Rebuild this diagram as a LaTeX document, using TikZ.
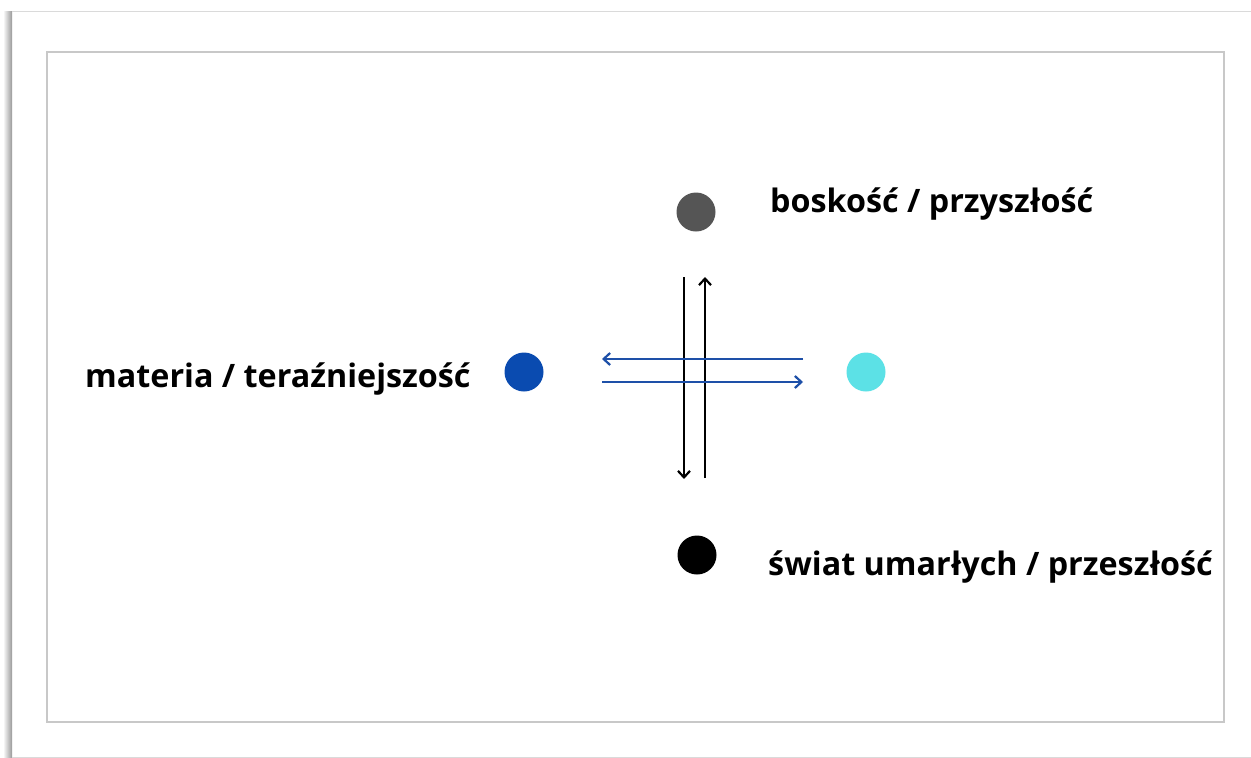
\documentclass[tikz,border=0pt]{standalone}
\usepackage{fontspec}
\setmainfont{Open Sans}
\usetikzlibrary{arrows.meta}
\definecolor{frameline}{HTML}{C8C8C8}
\definecolor{outerline}{HTML}{DADADA}
\definecolor{dotblue}{HTML}{0A4BB0}
\definecolor{dotgray}{HTML}{555555}
\definecolor{dotcyan}{HTML}{5CE1E6}
\definecolor{arrowblue}{HTML}{1E50A8}
\tikzset{
  dot/.style={circle, inner sep=0pt, minimum size=39pt},
  label/.style={anchor=base west, inner sep=0pt, font=\fontsize{32.3}{38}\selectfont\bfseries, text=black},
  flow/.style={line width=2.6pt, -{Straight Barb[length=6.5pt,width=12pt,line width=2.2pt]}},
}
\begin{document}
\begin{tikzpicture}[x=1pt,y=-1pt]
  \useasboundingbox (0,0) rectangle (1251,758);
  \fill[white] (0,0) rectangle (1251,758);
  % outer sheet with a soft shadow on its left edge
  \shade[left color=white, right color=black!40] (3,11) rectangle (12,758);
  \draw[outerline, line width=1pt] (12,11) -- (1251,11);
  \draw[outerline, line width=1pt] (12,757) -- (1251,757);
  % inner frame
  \draw[frameline, line width=1.5pt] (47,52) rectangle (1224,722);

  % dots
  \node[dot, fill=dotgray] (up) at (696,212) {};
  \node[dot, fill=black] (down) at (697,555) {};
  \node[dot, fill=dotblue] (left) at (524,372) {};
  \node[dot, fill=dotcyan] (right) at (866,372) {};

  % labels
  \node[label] (lup) at (770,212) {boskość / przyszłość};
  \node[label] (lleft) at (85,387) {materia / teraźniejszość};
  \node[label] (ldown) at (768,575) {świat umarłych / przeszłość};

  % arrow end points between the dots
  \coordinate (v1t) at (684,277);
  \coordinate (v1b) at (684,479);
  \coordinate (v2t) at (705,277);
  \coordinate (v2b) at (705,478);
  \coordinate (h1l) at (602,359);
  \coordinate (h1r) at (803,359);
  \coordinate (h2l) at (602,382);
  \coordinate (h2r) at (803,382);

  \draw[flow, black] (v1t) -- (v1b);
  \draw[flow, black] (v2b) -- (v2t);
  \draw[flow, arrowblue] (h1r) -- (h1l);
  \draw[flow, arrowblue] (h2l) -- (h2r);
\end{tikzpicture}
\end{document}
